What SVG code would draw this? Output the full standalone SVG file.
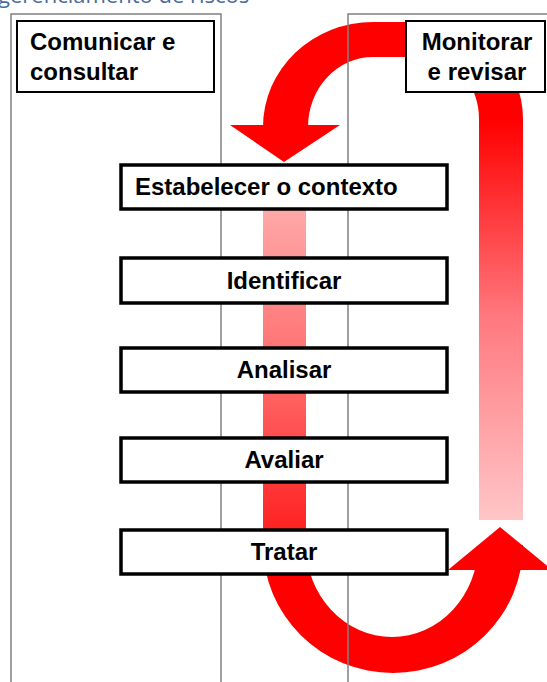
<svg xmlns="http://www.w3.org/2000/svg" width="547" height="682" viewBox="0 0 547 682">
  <defs>
    <linearGradient id="gRight" x1="0" y1="0" x2="0" y2="1">
      <stop offset="0" stop-color="#ff0000"/>
      <stop offset="0.5" stop-color="#ff7a80"/>
      <stop offset="1" stop-color="#ffc6c8"/>
    </linearGradient>
    <linearGradient id="gCenter" x1="0" y1="0" x2="0" y2="1">
      <stop offset="0" stop-color="#ffa8a8"/>
      <stop offset="0.5" stop-color="#ff6a6a"/>
      <stop offset="1" stop-color="#ff1a1a"/>
    </linearGradient>
  </defs>
  <style>
    .panel { fill: none; stroke: #808080; stroke-width: 1.5; }
    .hdr { fill: #ffffff; stroke: #000000; stroke-width: 2; }
    .step { fill: #ffffff; stroke: #000000; stroke-width: 3.5; }
    .t { font-family: "Liberation Sans", Arial, sans-serif; font-weight: bold; font-size: 24px; fill: #000000; }
    .red { fill: #ff0000; }
    .title { font-family: "Open Sans", "Liberation Sans", sans-serif; font-size: 22px; fill: #4a6a9c; }
  </style>

  <text class="title" x="-2" y="3">gerenciamento de riscos</text>

  <g id="connectors">
    <!-- top return arrow -->
    <path class="red" d="M 263 127 A 110 105 0 0 1 373 22 L 426 22 A 97 97 0 0 1 523 119 L 523 122 L 479 122 L 479 119 A 53 62 0 0 0 426 57 L 373 57 A 65 70 0 0 0 308 127 Z"/>
    <polygon class="red" points="230,125 340,125 284,162"/>
    <rect x="479" y="120" width="44" height="400" fill="url(#gRight)"/>
    <!-- center flow bar -->
    <rect x="263" y="209" width="43" height="338" fill="url(#gCenter)"/>
    <!-- bottom U arrow -->
    <path class="red" d="M 263 545 A 130 128 0 0 0 523 545 L 478 545 A 86 92 0 0 1 306 545 Z"/>
    <polygon class="red" points="448,570 552,570 500,527"/>
  </g>

  <g id="panels">
    <rect class="panel" x="11" y="14" width="210" height="690"/>
    <rect class="panel" x="348" y="14" width="220" height="690"/>
  </g>

  <g id="comunicar">
    <rect class="hdr" x="17" y="21" width="197" height="71"/>
    <text class="t" x="30" y="50">Comunicar e</text>
    <text class="t" x="30" y="80">consultar</text>
  </g>

  <g id="monitorar">
    <rect class="hdr" x="406" y="21" width="139" height="71"/>
    <text class="t" x="477" y="50" text-anchor="middle">Monitorar</text>
    <text class="t" x="477" y="80" text-anchor="middle">e revisar</text>
  </g>

  <g id="estabelecer">
    <rect class="step" x="121" y="165" width="326" height="44"/>
    <text class="t" x="135" y="195">Estabelecer o contexto</text>
  </g>
  <g id="identificar">
    <rect class="step" x="121" y="258" width="326" height="45"/>
    <text class="t" x="284" y="289" text-anchor="middle">Identificar</text>
  </g>
  <g id="analisar">
    <rect class="step" x="121" y="348" width="326" height="44"/>
    <text class="t" x="284" y="378" text-anchor="middle">Analisar</text>
  </g>
  <g id="avaliar">
    <rect class="step" x="121" y="438" width="326" height="44"/>
    <text class="t" x="284" y="468" text-anchor="middle">Avaliar</text>
  </g>
  <g id="tratar">
    <rect class="step" x="121" y="530" width="326" height="44"/>
    <text class="t" x="284" y="560" text-anchor="middle">Tratar</text>
  </g>
</svg>
